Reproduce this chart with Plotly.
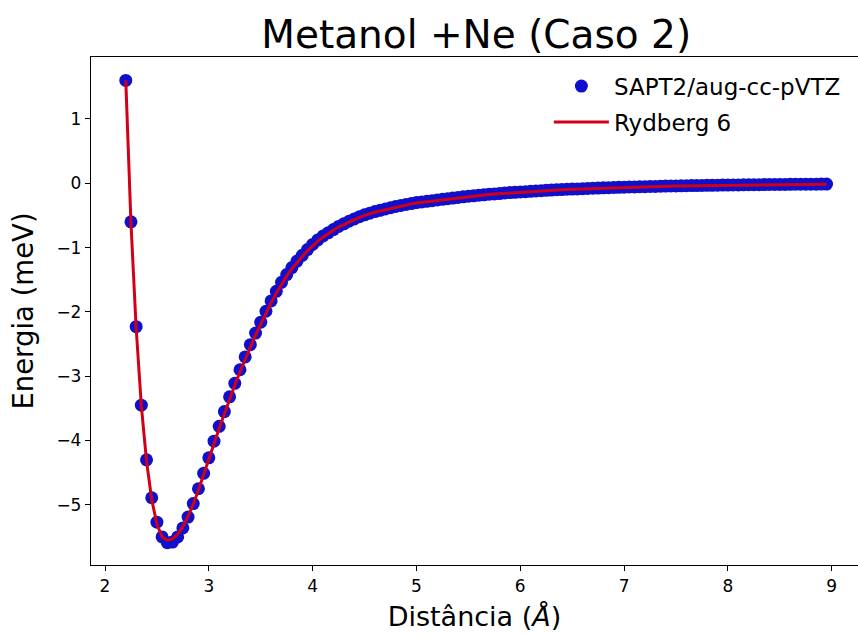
import plotly.graph_objects as go

distance = [2.20, 2.25, 2.30, 2.35, 2.40, 2.45, 2.50, 2.55, 2.60, 2.65,
            2.70, 2.75, 2.80, 2.85, 2.90, 2.95, 3.00, 3.05, 3.10, 3.15,
            3.20, 3.25, 3.30, 3.35, 3.40, 3.45, 3.50, 3.55, 3.60, 3.65,
            3.70, 3.75, 3.80, 3.85, 3.90, 3.95, 4.00, 4.05, 4.10, 4.15,
            4.20, 4.25, 4.30, 4.35, 4.40, 4.45, 4.50, 4.55, 4.60, 4.65,
            4.70, 4.75, 4.80, 4.85, 4.90, 4.95, 5.00, 5.05, 5.10, 5.15,
            5.20, 5.25, 5.30, 5.35, 5.40, 5.45, 5.50, 5.55, 5.60, 5.65,
            5.70, 5.75, 5.80, 5.85, 5.90, 5.95, 6.00, 6.05, 6.10, 6.15,
            6.20, 6.25, 6.30, 6.35, 6.40, 6.45, 6.50, 6.55, 6.60, 6.65,
            6.70, 6.75, 6.80, 6.85, 6.90, 6.95, 7.00, 7.05, 7.10, 7.15,
            7.20, 7.25, 7.30, 7.35, 7.40, 7.45, 7.50, 7.55, 7.60, 7.65,
            7.70, 7.75, 7.80, 7.85, 7.90, 7.95, 8.00, 8.05, 8.10, 8.15,
            8.20, 8.25, 8.30, 8.35, 8.40, 8.45, 8.50, 8.55, 8.60, 8.65,
            8.70, 8.75, 8.80, 8.85, 8.90, 8.95]

sapt2_energy = [1.60, -0.60, -2.23, -3.45, -4.30, -4.89, -5.27, -5.50, -5.59, -5.58,
                -5.50, -5.36, -5.19, -4.98, -4.75, -4.51, -4.27, -4.01, -3.78, -3.55,
                -3.32, -3.11, -2.90, -2.70, -2.51, -2.33, -2.16, -1.99, -1.83, -1.68,
                -1.54, -1.42, -1.31, -1.21, -1.12, -1.03, -0.95, -0.88, -0.82, -0.77,
                -0.72, -0.67, -0.63, -0.59, -0.555, -0.52, -0.49, -0.465, -0.44, -0.42,
                -0.40, -0.38, -0.36, -0.345, -0.33, -0.315, -0.30, -0.29, -0.28, -0.27,
                -0.26, -0.25, -0.24, -0.23, -0.22, -0.21, -0.20, -0.195, -0.185, -0.18,
                -0.17, -0.165, -0.16, -0.15, -0.145, -0.14, -0.135, -0.13, -0.125, -0.12,
                -0.115, -0.11, -0.105, -0.10, -0.097, -0.093, -0.09, -0.087, -0.083, -0.08,
                -0.077, -0.074, -0.071, -0.068, -0.065, -0.063, -0.06, -0.058, -0.056, -0.054,
                -0.052, -0.05, -0.048, -0.046, -0.044, -0.042, -0.041, -0.039, -0.038, -0.036,
                -0.035, -0.033, -0.032, -0.031, -0.03, -0.028, -0.027, -0.026, -0.025, -0.024,
                -0.023, -0.022, -0.021, -0.02, -0.019, -0.018, -0.018, -0.017, -0.016, -0.015,
                -0.015, -0.014, -0.013, -0.013, -0.012, -0.012]

rydberg6_energy = [1.60, -0.62, -2.25, -3.46, -4.32, -4.92, -5.30, -5.50, -5.55, -5.53,
                   -5.46, -5.34, -5.18, -4.99, -4.77, -4.54, -4.30, -4.05, -3.81, -3.58,
                   -3.35, -3.14, -2.93, -2.73, -2.54, -2.36, -2.19, -2.02, -1.86, -1.71,
                   -1.57, -1.44, -1.33, -1.23, -1.14, -1.05, -0.97, -0.90, -0.84, -0.78,
                   -0.73, -0.68, -0.64, -0.60, -0.56, -0.53, -0.50, -0.47, -0.45, -0.43,
                   -0.41, -0.39, -0.37, -0.35, -0.335, -0.32, -0.305, -0.295, -0.285, -0.275,
                   -0.265, -0.255, -0.245, -0.235, -0.225, -0.215, -0.205, -0.198, -0.19, -0.183,
                   -0.175, -0.168, -0.162, -0.155, -0.149, -0.143, -0.138, -0.133, -0.128, -0.123,
                   -0.118, -0.113, -0.108, -0.103, -0.099, -0.095, -0.092, -0.088, -0.085, -0.082,
                   -0.079, -0.076, -0.073, -0.07, -0.067, -0.065, -0.062, -0.06, -0.058, -0.056,
                   -0.054, -0.052, -0.05, -0.048, -0.046, -0.044, -0.043, -0.041, -0.04, -0.038,
                   -0.037, -0.035, -0.034, -0.033, -0.031, -0.03, -0.029, -0.028, -0.027, -0.026,
                   -0.025, -0.024, -0.023, -0.022, -0.021, -0.02, -0.02, -0.019, -0.018, -0.017,
                   -0.017, -0.016, -0.015, -0.015, -0.014, -0.014]

x_ticks = [2, 3, 4, 5, 6, 7, 8, 9]
y_ticks = [1, 0, -1, -2, -3, -4, -5]

title_text = "Metanol +Ne (Caso 2)"
x_title = "Distância (<i>Å</i>)"
y_title = "Energia (meV)"
series_names = ["SAPT2/aug-cc-pVTZ", "Rydberg 6"]

FONT = "DejaVu Sans"

fig = go.Figure()
fig.add_trace(go.Scatter(
    x=distance, y=sapt2_energy, mode="markers", name=series_names[0],
    legendgroup="a",
    marker=dict(color="rgb(16,16,204)", size=13, line=dict(width=0)),
))
fig.add_trace(go.Scatter(
    x=distance, y=rydberg6_energy, mode="lines", name=series_names[1],
    legendgroup="b",
    line=dict(color="rgb(210,0,22)", width=3),
))

axis_common = dict(
    showgrid=False, zeroline=False, showline=True, linecolor="black", linewidth=1.3,
    ticks="outside", ticklen=5, tickwidth=1.2, tickcolor="black",
    tickfont=dict(family=FONT, size=17, color="black"),
)

fig.update_layout(
    width=858, height=638,
    margin=dict(l=91, r=0, t=57, b=73),
    paper_bgcolor="white", plot_bgcolor="white",
    title=dict(text=title_text, x=0.555, xanchor="center", y=0.946, yanchor="middle",
               font=dict(family=FONT, size=39, color="black")),
    xaxis=dict(range=[1.865, 9.253], tickvals=x_ticks, mirror=True,
               title=dict(text=x_title, font=dict(family=FONT, size=27, color="black"), standoff=12),
               **axis_common),
    yaxis=dict(range=[-5.936, 1.964], tickvals=y_ticks, mirror=False,
               title=dict(text=y_title, font=dict(family=FONT, size=27.5, color="black"), standoff=14),
               **axis_common),
    legend=dict(x=0.597, y=0.985, xanchor="left", yanchor="top", bgcolor="rgba(0,0,0,0)",
                font=dict(family=FONT, size=23, color="black"), itemwidth=55,
                tracegroupgap=3),
    showlegend=True,
)

fig.write_html("out.html")
